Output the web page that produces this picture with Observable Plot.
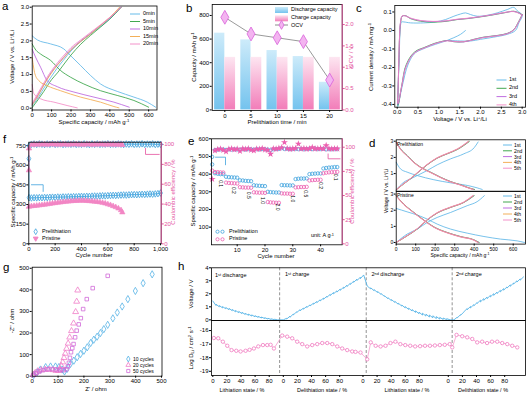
<!DOCTYPE html>
<html><head><meta charset="utf-8">
<script src="https://cdn.jsdelivr.net/npm/d3@7"></script>
<script src="https://cdn.jsdelivr.net/npm/@observablehq/plot@0.6"></script>
<style>
body{margin:0;background:#fff;}
#root{position:relative;width:530px;height:395px;overflow:hidden;font-family:"Liberation Sans",Arial,Helvetica,sans-serif;}
.t{position:absolute;white-space:nowrap;line-height:1;color:#000;}
.t sup{font-size:70%;vertical-align:0.45em;line-height:0;}
.t sub{font-size:70%;vertical-align:-0.2em;line-height:0;}
</style></head><body><div id="root"></div>
<script>
// ---------------- DATA ----------------
// (a) charge/discharge curves, [capacity mAh/g, voltage V]
const aLegend = ["0min","5min","10min","15min","20min"];
const a0Dis = [[0,2.15],[26,2.03],[95,1.91],[163,1.76],[198,1.56],[249,1.27],[301,0.97],[352,0.72],[438,0.5],[524,0.33],[593,0.18],[636,0.03]];
const a5Dis = [[0,1.91],[20,1.72],[43,1.61],[95,1.42],[146,1.12],[198,0.92],[266,0.72],[352,0.52],[438,0.38],[524,0.23],[600,0.03]];
const a10Dis = [[0,1.75],[17,1.52],[43,1.22],[77,0.82],[129,0.64],[215,0.48],[318,0.33],[421,0.18],[500,0.03]];
const a15Dis = [[0,1.5],[14,1.02],[34,0.82],[77,0.67],[146,0.52],[249,0.33],[352,0.18],[421,0.05],[447,0.01]];
const a20Dis = [[0,0.7],[9,0.43],[43,0.28],[112,0.18],[180,0.08],[232,0.01]];
const a0Cha = [[0,0.08],[20,0.22],[50,0.5],[80,0.78],[100,0.95],[130,1.2],[160,1.42],[200,1.7],[250,1.98],[300,2.2],[350,2.42],[400,2.65],[455,3.0]];
const a5Cha = [[0,0.02],[30,0.25],[60,0.5],[100,0.85],[130,1.05],[160,1.28],[200,1.58],[250,1.9],[300,2.16],[350,2.4],[400,2.65],[460,3.0]];
const a10Cha = [[0,0.12],[25,0.35],[50,0.6],[80,0.9],[100,1.08],[130,1.3],[160,1.5],[200,1.75],[250,2.0],[300,2.22],[350,2.45],[400,2.68],[455,3.0]];
const a15Cha = [[0,0.1],[25,0.32],[50,0.58],[80,0.88],[100,1.05],[130,1.28],[160,1.48],[200,1.73],[250,1.98],[300,2.2],[350,2.45],[400,2.7],[450,3.0]];
const a20Cha = [[0,0.15],[25,0.4],[50,0.65],[80,0.95],[100,1.12],[130,1.35],[160,1.55],[200,1.8],[250,2.03],[300,2.25],[350,2.47],[400,2.7],[460,3.0]];

// (b) prelithiation time
const bTime = [0,5,10,15,20];
const bDischarge = [650,593,503,452,234];
const bCharge = [445,445,445,445,445];
const bOCV = [2.17,1.78,1.69,1.60,0.70];

// (c) CV curves [V, mA/mg]
const cLegend = ["1st","2nd","3rd","4th"];
const cv1 = [[1.64,0],[1.52,-0.021],[1.36,-0.039],[1.2,-0.054],[1.04,-0.066],[0.8,-0.084],[0.6,-0.102],[0.44,-0.12],[0.32,-0.155],[0.22,-0.209],[0.16,-0.263],[0.096,-0.325],[0.048,-0.379],[0.016,-0.411],[0.024,-0.289],[0.048,-0.146],[0.064,-0.021],[0.08,0.029],[0.104,0.046],[0.16,0.046],[0.32,0.041],[0.64,0.041],[0.92,0.046],[1.16,0.059],[1.36,0.077],[1.52,0.089],[1.64,0.095],[1.76,0.086],[1.92,0.077],[2.16,0.082],[2.4,0.095],[2.64,0.113],[2.8,0.125],[2.88,0.107],[3.0,0.082],[2.92,0.041],[2.84,0],[2.64,-0.021],[2.32,-0.036],[2.0,-0.048],[1.76,-0.057],[1.52,-0.057],[1.28,-0.054]];
const cv2 = [[3.0,0.086],[2.92,0.05],[2.8,0.005],[2.64,-0.016],[2.4,-0.027],[2.08,-0.036],[1.84,-0.048],[1.6,-0.061],[1.36,-0.061],[1.2,-0.054],[1.04,-0.061],[0.88,-0.071],[0.64,-0.093],[0.48,-0.107],[0.36,-0.129],[0.26,-0.164],[0.18,-0.209],[0.13,-0.271],[0.08,-0.334],[0.04,-0.388],[0.016,-0.405],[0.024,-0.307],[0.04,-0.164],[0.056,-0.039],[0.08,0.041],[0.12,0.077],[0.2,0.08],[0.32,0.064],[0.56,0.05],[0.88,0.045],[1.2,0.05],[1.44,0.059],[1.68,0.064],[1.92,0.071],[2.24,0.082],[2.56,0.095],[2.8,0.104],[2.92,0.095],[3.0,0.086]];
const cv3 = [[3.0,0.084],[2.92,0.048],[2.8,0.004],[2.64,-0.017],[2.4,-0.028],[2.08,-0.037],[1.84,-0.049],[1.6,-0.062],[1.36,-0.06],[1.2,-0.055],[1.04,-0.062],[0.88,-0.073],[0.64,-0.095],[0.48,-0.11],[0.36,-0.133],[0.26,-0.17],[0.18,-0.215],[0.13,-0.275],[0.08,-0.335],[0.04,-0.385],[0.016,-0.4],[0.024,-0.3],[0.04,-0.16],[0.056,-0.035],[0.08,0.045],[0.12,0.078],[0.2,0.079],[0.32,0.066],[0.56,0.053],[0.88,0.048],[1.2,0.052],[1.44,0.06],[1.68,0.065],[1.92,0.072],[2.24,0.083],[2.56,0.096],[2.8,0.103],[2.92,0.094],[3.0,0.084]];
const cv4 = [[3.0,0.083],[2.92,0.047],[2.8,0.003],[2.64,-0.018],[2.4,-0.029],[2.08,-0.038],[1.84,-0.05],[1.6,-0.06],[1.36,-0.059],[1.2,-0.056],[1.04,-0.063],[0.88,-0.074],[0.64,-0.096],[0.48,-0.112],[0.36,-0.135],[0.26,-0.172],[0.18,-0.218],[0.13,-0.277],[0.08,-0.333],[0.04,-0.382],[0.016,-0.395],[0.024,-0.295],[0.04,-0.155],[0.056,-0.03],[0.08,0.047],[0.12,0.079],[0.2,0.078],[0.32,0.067],[0.56,0.054],[0.88,0.049],[1.2,0.053],[1.44,0.061],[1.68,0.066],[1.92,0.073],[2.24,0.084],[2.56,0.097],[2.8,0.102],[2.92,0.093],[3.0,0.083]];

// (f) long cycling [cycle, value]
const fLegend = ["Prelithiation","Pristine"];
const fPreCap = [[1,650],[2,352],[20,350],[40,352],[60,351],[80,353],[100,352],[120,354],[140,353],[160,355],[180,356],[200,355],[220,357],[240,356],[260,358],[280,357],[300,359],[320,358],[340,360],[360,359],[380,361],[400,362],[420,361],[440,363],[460,362],[480,364],[500,365],[520,364],[540,366],[560,367],[580,366],[600,368],[620,369],[640,370],[660,369],[680,371],[700,372],[720,373],[740,372],[760,374],[780,375],[800,376],[820,375],[840,377],[860,378],[880,377],[900,379],[920,380],[940,379],[960,381],[980,383],[1000,388]];
const fPriCap = [[1,283],[20,287],[40,289],[60,291],[80,294],[100,296],[120,299],[140,302],[160,305],[180,308],[200,311],[220,314],[240,316],[260,319],[280,321],[300,323],[320,325],[340,327],[360,328],[380,329],[400,330],[420,329],[440,328],[460,326],[480,324],[500,322],[520,320],[540,317],[560,313],[580,308],[600,302],[620,296],[640,288],[660,280],[680,270],[700,257],[710,240]];
const fPreCE = [[2,98.6],[20,100.2],[40,100.5],[60,100.1],[80,100.6],[100,100.3],[120,100.0],[140,100.5],[160,100.2],[180,100.7],[200,100.1],[220,100.4],[240,100.6],[260,100.0],[280,100.3],[300,100.5],[320,100.2],[340,100.6],[360,100.1],[380,100.4],[400,100.2],[420,100.6],[440,100.3],[460,100.0],[480,100.5],[500,100.2],[520,100.6],[540,100.1],[560,100.4],[580,100.3],[600,100.7],[620,100.1],[640,100.4],[660,100.2],[680,100.6],[700,100.3],[720,100.0],[740,100.5],[760,100.2],[780,100.6],[800,100.1],[820,100.4],[840,100.3],[860,100.7],[880,100.1],[900,100.4],[920,100.2],[940,100.6],[960,100.0],[980,100.3],[1000,100.2]];
const fPriCE = [[1,74],[2,96],[20,99.7],[40,100.1],[60,99.8],[80,100.2],[100,99.9],[120,100.3],[140,99.8],[160,100.1],[180,100.4],[200,99.9],[220,100.2],[240,99.8],[260,100.3],[280,100.0],[300,99.7],[320,100.2],[340,100.0],[360,100.4],[380,99.9],[400,100.1],[420,99.8],[440,100.3],[460,100.0],[480,99.7],[500,100.2],[520,99.9],[540,100.3],[560,100.0],[580,99.8],[600,100.2],[620,99.9],[640,100.1],[660,99.7],[680,100.0],[700,99.8],[710,99.6]];
const fArrowPre = [[20,451],[109,451],[109,400]];
const fArrowPri = [[886,96],[886,90],[990,90]];

// (e) rate performance, index = cycle-1
const ePreCap = [455,405,402,400,400,385,383,382,381,380,365,364,362,361,360,337,335,334,333,332,300,298,297,296,296,338,337,337,336,336,372,374,375,375,376,400,402,403,404,404,432,435,437,438,440,440];
const ePriCap = [420,412,411,410,409,352,350,349,348,347,326,325,324,324,323,297,296,295,295,294,242,240,239,238,238,291,290,290,289,289,325,326,327,327,328,364,366,367,368,368,405,408,410,411,412,413];
const ePreCE = [90,97,97.5,97.8,97.6,97.2,97.8,97.5,97.9,97.7,97.3,98,97.6,98.1,97.8,97.4,98,97.7,98.2,97.9,97.5,96.8,97.9,98.1,98.3,99,98.2,98.4,98,98.1,98.2,98,98.3,97.9,98.2,98.4,98.1,98.6,98,98.2,98.4,97.8,98,97.9,98.1,98];
const ePriCE = [67,96.5,97.8,98.2,97,95.5,98,98.5,97.5,98.3,96,98.4,97.9,98.6,97.2,96.5,98.2,98,98.7,97.4,97,93,98.5,98.2,98.9,99.5,105,98.6,98.1,98.4,98.8,103.5,98.3,98.7,98.2,98.5,99.8,98.4,98.6,98.9,98.3,101.8,98.5,98.2,98.6,98.4];
const eRateText = ["0.1","0.2","0.5","1.0","2.0","1.0","0.5","0.2","0.1"];
const eRateCycle = [4.0,8.8,14.0,19.2,24.4,29.8,34.6,40.0,45.4];
const eRateCap = [346,308,280,251,214,261,289,336,383];
const eArrowPre = [[2.2,496],[5.8,496],[5.8,453]];
const eArrowPri = [[42.7,93],[42.7,88],[47,88]];

// (d) galvanostatic profiles [capacity, V]
const dLegend = ["1st","2nd","3rd","4th","5th"];
const dPre1Dis = [[0,1.7],[22,1.29],[56,1.09],[108,0.88],[193,0.62],[279,0.43],[364,0.27],[415,0.12],[441,0.02]];
const dPre1Cha = [[0,0],[39,0.47],[74,0.68],[108,0.88],[159,1.19],[210,1.54],[279,1.91],[347,2.22],[400,2.6],[420,2.95]];
const dPre2Dis = [[0,2.95],[22,2.53],[56,2.12],[91,1.7],[125,1.4],[176,1.09],[227,0.78],[279,0.51],[330,0.31],[373,0.12],[402,0.02]];
const dPre3Dis = [[0,2.94],[22,2.52],[56,2.1],[91,1.69],[125,1.39],[176,1.08],[227,0.77],[279,0.5],[330,0.3],[373,0.11],[398,0.02]];
const dPre4Dis = [[0,2.93],[22,2.5],[56,2.09],[91,1.68],[125,1.38],[176,1.07],[227,0.76],[279,0.49],[330,0.3],[373,0.11],[395,0.02]];
const dPre5Dis = [[0,2.92],[22,2.49],[56,2.08],[91,1.67],[125,1.37],[176,1.06],[227,0.75],[279,0.48],[330,0.29],[373,0.1],[392,0.02]];
const dPre2Cha = [[0,0],[39,0.37],[74,0.68],[108,1.03],[159,1.54],[210,1.95],[262,2.22],[313,2.48],[375,2.98]];
const dPre3Cha = [[0,0],[39,0.38],[74,0.69],[108,1.04],[159,1.55],[210,1.96],[262,2.23],[313,2.5],[372,2.98]];
const dPre4Cha = [[0,0],[39,0.38],[74,0.7],[108,1.05],[159,1.56],[210,1.97],[262,2.24],[313,2.51],[370,2.98]];
const dPre5Cha = [[0,0],[39,0.39],[74,0.7],[108,1.06],[159,1.57],[210,1.98],[262,2.25],[313,2.52],[368,2.98]];
const dPri1Dis = [[0,2.11],[56,1.9],[108,1.7],[159,1.45],[210,1.14],[279,0.83],[364,0.58],[450,0.37],[535,0.21],[620,0.1],[658,0]];
const dPri1Cha = [[0,0],[56,0.52],[108,0.83],[159,1.24],[210,1.55],[279,1.86],[364,2.28],[415,2.53],[452,2.9]];
const dPri2Dis = [[0,2.9],[39,2.38],[91,1.86],[142,1.39],[193,0.97],[262,0.62],[330,0.37],[398,0.17],[426,0]];
const dPri3Dis = [[0,2.89],[39,2.37],[91,1.85],[142,1.38],[193,0.96],[262,0.61],[330,0.36],[398,0.16],[423,0]];
const dPri4Dis = [[0,2.88],[39,2.36],[91,1.84],[142,1.37],[193,0.95],[262,0.6],[330,0.35],[398,0.15],[420,0]];
const dPri5Dis = [[0,2.87],[39,2.35],[91,1.83],[142,1.36],[193,0.94],[262,0.59],[330,0.34],[398,0.14],[417,0]];
const dPri2Cha = [[0,0],[56,0.41],[108,0.83],[159,1.39],[210,1.82],[279,2.17],[347,2.48],[400,2.9]];
const dPri3Cha = [[0,0],[56,0.42],[108,0.84],[159,1.4],[210,1.83],[279,2.18],[347,2.49],[397,2.9]];
const dPri4Cha = [[0,0],[56,0.42],[108,0.85],[159,1.41],[210,1.84],[279,2.19],[347,2.5],[394,2.9]];
const dPri5Cha = [[0,0],[56,0.43],[108,0.86],[159,1.42],[210,1.85],[279,2.2],[347,2.51],[391,2.9]];

// (g) Nyquist [Z', -Z'']
const gLegend = ["10 cycles","20 cycles","50 cycles"];
const g10 = [[6,6],[19,18],[32,31],[52,42],[71,45],[90,45],[103,42],[116,31],[125,22],[135,34],[148,57],[161,72],[174,88],[187,103],[200,118],[213,134],[226,154],[238,169],[251,183],[264,200],[277,218],[292,238],[312,268],[329,295],[348,323],[370,357],[399,395],[429,431],[464,472]];
const g20 = [[4,8],[12,16],[22,24],[35,29],[50,31],[65,31],[80,29],[92,26],[102,25],[108,32],[113,48],[118,65],[123,85],[128,105],[133,128],[139,152],[145,180],[152,210],[160,245],[168,298],[172,346],[176,398]];
const g50 = [[5,5],[15,14],[28,22],[42,28],[58,32],[75,33],[92,31],[108,29],[122,28],[132,32],[138,45],[142,62],[146,85],[150,111],[155,130],[160,149],[166,180],[172,211],[180,240],[188,269],[197,311],[211,357],[234,408],[292,465]];

// (h) GITT: segment start (state %), step, relaxed / pulse voltages
const hSegStart = [0,100,219,342];
const hSegStep = [4.6,4.75,4.9,4.7];
const h1Relax = [1.45,1.2,1.1,1.02,0.95,0.88,0.8,0.72,0.65,0.58,0.5,0.44,0.38,0.32,0.27,0.22,0.17,0.12,0.08,0.05];
const h1Pulse = [1.1,1.0,0.92,0.85,0.78,0.7,0.62,0.55,0.48,0.41,0.35,0.29,0.24,0.19,0.14,0.1,0.06,0.03,0.01,0.0];
const h2Relax = [0.0,0.06,0.2,0.38,0.56,0.7,0.82,0.95,1.07,1.2,1.32,1.45,1.58,1.73,1.87,2.0,2.13,2.27,2.41,2.56,2.72,2.88,3.02,3.16];
const h2Pulse = [0.12,0.28,0.45,0.62,0.78,0.9,1.03,1.15,1.28,1.41,1.54,1.67,1.81,1.96,2.1,2.23,2.37,2.51,2.66,2.81,2.97,3.13,3.28,3.45];
const h3Relax = [2.6,2.46,2.32,2.18,2.02,1.85,1.7,1.56,1.42,1.28,1.14,1.02,0.9,0.79,0.69,0.59,0.51,0.44,0.37,0.31,0.25,0.19,0.14,0.09];
const h3Pulse = [2.38,2.24,2.1,1.96,1.8,1.63,1.48,1.34,1.2,1.06,0.92,0.8,0.68,0.57,0.47,0.37,0.29,0.22,0.16,0.1,0.06,0.03,0.01,0.0];
const h4Relax = [0.0,0.15,0.35,0.62,0.78,0.92,1.08,1.26,1.38,1.5,1.63,1.76,1.88,2.02,2.15,2.28,2.44,2.58,2.75,2.9,3.05];
const h4Pulse = [0.2,0.4,0.6,0.87,1.03,1.17,1.33,1.51,1.63,1.75,1.88,2.01,2.13,2.27,2.4,2.53,2.69,2.83,3.0,3.15,3.3];
const hLogD = [[1.5,-16.55],[7.7,-16.57],[14.3,-16.82],[20.5,-17.12],[26.6,-17.44],[33.3,-17.49],[39.4,-17.54],[46.5,-17.49],[52.2,-17.42],[58.3,-17.32],[64.5,-17.17],[71.1,-17.07],[77.2,-17.07],[82,-17.05],[86.7,-17.32],
 [98.4,-16.37],[105.5,-16.45],[112.6,-16.57],[119.7,-16.82],[126.8,-17.0],[133.9,-17.17],[141,-17.07],[148.1,-17.0],[155.2,-16.92],[162.3,-16.92],[169.4,-17.0],[176.5,-17.17],[183.5,-17.32],[190.6,-17.44],[197.7,-17.54],[202.4,-17.57],[209.5,-17.62],
 [219,-18.12],[224,-16.87],[231,-17.12],[238,-17.17],[245,-17.12],[252,-16.92],[259,-16.82],[266,-17.0],[273,-17.07],[280,-17.12],[287,-17.17],[294,-17.15],[301,-17.12],[308,-17.12],[315,-17.1],[322,-17.07],[329,-17.05],[336,-17.0],[339.6,-17.24],
 [345.7,-16.32],[353.7,-16.42],[360.8,-16.5],[368,-16.62],[375,-16.87],[382,-16.82],[389,-16.92],[396,-16.82],[403.4,-16.82],[410.5,-16.92],[417.6,-17.0],[424.7,-17.12],[431.8,-17.24]];
const hTickZero = [0,100,213,334];
const hTickStep = [0,20,40,60,80];
const hDash = [94.8,217.6,339.5];
const hTitles = ["1<sup>st</sup> discharge","1<sup>st</sup> charge","2<sup>nd</sup> discharge","2<sup>nd</sup> charge"];

// ---------------- RENDERING ----------------
const C = {blue:"#55B3E6", green:"#2C9E3C", purple:"#B85CDC", orange:"#F2A646", pink:"#F286C4", axpink:"#E4519E", grey:"#808080", mag:"#D06AD8", dblue:"#3FA2DD"};
const FONT = '"Liberation Sans", Arial, Helvetica, sans-serif';
const root = document.getElementById("root");
const XY = {x: d => d[0], y: d => d[1]};

function plotAt(x, y, w, h, m, opts) {
  const svg = Plot.plot({width: w, height: h, marginLeft: m[0], marginRight: m[1], marginTop: m[2], marginBottom: m[3],
    style: {fontFamily: FONT, fontSize: "6px", background: "transparent", overflow: "visible", color: "#000"}, ...opts});
  svg.style.position = "absolute"; svg.style.left = x + "px"; svg.style.top = y + "px";
  root.appendChild(svg);
  return svg;
}
function text(html, x, y, o = {}) {
  const d = document.createElement("div");
  d.className = "t"; d.innerHTML = html;
  d.style.left = x + "px"; d.style.top = y + "px";
  d.style.fontSize = (o.size || 6) + "px";
  if (o.color) d.style.color = o.color;
  const ax = o.anchor === "middle" ? "-50%" : o.anchor === "end" ? "-100%" : "0";
  d.style.transform = `translate(${ax},-50%)` + (o.rot ? ` rotate(${o.rot}deg)` : "");
  root.appendChild(d);
}
const AX = {tickSize: 2, tickPadding: 1, label: null};
const f1 = d => d.toFixed(1);

// gradient defs (document-level)
const defs = d3.select(root).append("svg").attr("width", 0).attr("height", 0).style("position", "absolute").append("defs");
function grad(id, top, bottom) {
  const g = defs.append("linearGradient").attr("id", id).attr("x1", 0).attr("x2", 0).attr("y1", 0).attr("y2", 1);
  g.append("stop").attr("offset", "0%").attr("stop-color", top);
  g.append("stop").attr("offset", "100%").attr("stop-color", bottom);
}
grad("gBlue", "#CDEBFA", "#74C3EE");
grad("gPink", "#FDE6F1", "#F27DB9");

// ---- (a)
plotAt(0, 0, 165, 125, [31.7, 8.5, 5.5, 15.5], {
  x: {domain: [0, 643]}, y: {domain: [-0.053, 3.036]},
  marks: [
    Plot.axisX([0,100,200,300,400,500,600], AX),
    Plot.axisY([0,0.5,1,1.5,2,2.5,3], {...AX, tickFormat: f1}),
    ...[[a0Dis,a0Cha,C.blue],[a5Dis,a5Cha,C.green],[a10Dis,a10Cha,C.purple],[a15Dis,a15Cha,C.orange],[a20Dis,a20Cha,C.pink]]
      .flatMap(([dis, cha, col]) => [
        Plot.line(dis, {...XY, stroke: col, strokeWidth: 0.8, curve: "monotone-x"}),
        Plot.line(cha, {...XY, stroke: col, strokeWidth: 0.8, curve: "monotone-x"})]),
    Plot.frame({strokeWidth: 0.8})
  ]
});

// ---- (b)
const kB = 893 / 2.47;
const bData = bTime.map((t, i) => ({t, dis: bDischarge[i], cha: bCharge[i], ocv: bOCV[i]}));
plotAt(180, 0, 175, 125, [31.7, 13.3, 4, 15], {
  x: {domain: [-2.41, 22.4]}, y: {domain: [-5, 893]},
  marks: [
    Plot.rect(bData, {x1: d => d.t - 1.95, x2: d => d.t, y1: d => 0, y2: "dis", fill: "url(#gBlue)"}),
    Plot.rect(bData, {x1: d => d.t, x2: d => d.t + 2.05, y1: d => 0, y2: "cha", fill: "url(#gPink)"}),
    Plot.line(bData, {x: "t", y: d => d.ocv * kB, stroke: C.grey, strokeWidth: 0.8}),
    Plot.dot(bData, {x: "t", y: d => d.ocv * kB, symbol: "diamond", r: 4.2, fill: "#F3B4F0", stroke: "#D962DA", strokeWidth: 0.8}),
    Plot.axisX(bTime, AX),
    Plot.axisY([0,200,400,600,800], AX),
    Plot.axisY([0,0.5,1,1.5,2].map(v => v * kB), {...AX, anchor: "right", tickFormat: d => (d / kB).toFixed(1), color: C.axpink}),
    Plot.frame({strokeWidth: 0.8}),
    Plot.ruleX([22.4], {stroke: C.axpink, strokeWidth: 0.9})
  ]
});

// ---- (c)
plotAt(355, 0, 175, 125, [39.3, 5, 5, 18.3], {
  x: {domain: [-0.058, 3.08]}, y: {domain: [-0.415, 0.135]},
  marks: [
    Plot.axisX([0,0.5,1,1.5,2,2.5,3], {...AX, tickFormat: f1}),
    Plot.axisY([0.1,0,-0.1,-0.2,-0.3,-0.4], {...AX, tickFormat: f1}),
    Plot.line(cv1, {...XY, stroke: C.blue, strokeWidth: 0.8, curve: "catmull-rom"}),
    Plot.line(cv2, {...XY, stroke: C.green, strokeWidth: 0.8, curve: "catmull-rom"}),
    Plot.line(cv3, {...XY, stroke: C.purple, strokeWidth: 0.8, curve: "catmull-rom"}),
    Plot.line(cv4, {...XY, stroke: C.pink, strokeWidth: 0.8, curve: "catmull-rom"}),
    Plot.frame({strokeWidth: 0.8})
  ]
});

// ---- (f)
const kF = 776 / 102.3;
plotAt(0, 128, 175, 130, [28.3, 14.3, 13.7, 14.7], {
  x: {domain: [0, 1005]}, y: {domain: [0, 776]},
  marks: [
    Plot.axisX([0,200,400,600,800,1000], AX),
    Plot.axisY([0,150,300,450,600,750], AX),
    Plot.axisY([0,20,40,60,80,100].map(v => v * kF), {...AX, anchor: "right", tickFormat: d => Math.round(d / kF), color: C.axpink}),
    Plot.line(fPreCap, {...XY, stroke: C.dblue, strokeWidth: 0.8}),
    Plot.dot(fPreCap, {...XY, symbol: "diamond", r: 2, stroke: C.dblue, strokeWidth: 0.8}),
    Plot.line(fPriCap, {...XY, stroke: C.pink, strokeWidth: 0.8}),
    Plot.dot(fPriCap, {...XY, symbol: "triangle", r: 2, fill: C.pink, stroke: C.pink, strokeWidth: 0.6}),
    Plot.line(fPreCE, {x: d => d[0], y: d => d[1] * kF, stroke: C.dblue, strokeWidth: 0.8}),
    Plot.dot(fPreCE, {x: d => d[0], y: d => d[1] * kF, symbol: "diamond", r: 2, stroke: C.dblue, strokeWidth: 0.8}),
    Plot.line(fPriCE, {x: d => d[0], y: d => d[1] * kF, stroke: C.pink, strokeWidth: 0.8}),
    Plot.dot(fPriCE, {x: d => d[0], y: d => d[1] * kF, symbol: "triangle", r: 2, fill: C.pink, stroke: C.pink, strokeWidth: 0.6}),
    Plot.line(fArrowPre, {...XY, stroke: C.dblue, strokeWidth: 0.8}),
    Plot.line(fArrowPri, {x: d => d[0], y: d => d[1] * kF, stroke: C.axpink, strokeWidth: 0.8}),
    Plot.frame({strokeWidth: 0.8}),
    Plot.ruleX([1005], {stroke: C.axpink, strokeWidth: 0.9})
  ]
});

// ---- (e)
const kE = 600 / 109.7;
const ceE = v => (v + 1) * kE;
const eRates = eRateText.map((s, i) => ({s, c: eRateCycle[i], v: eRateCap[i]}));
plotAt(180, 128, 175, 130, [31, 13.3, 10.3, 13.7], {
  x: {domain: [0.76, 47.77]}, y: {domain: [0, 600]},
  marks: [
    Plot.axisX([10,20,30,40], AX),
    Plot.axisY([100,200,300,400,500,600], AX),
    Plot.axisY([0,25,50,75,100].map(ceE), {...AX, anchor: "right", tickFormat: d => Math.round(d / kE - 1), color: C.axpink}),
    Plot.dot(ePreCap, {x: (d, i) => i + 1, y: d => d, r: 1.7, stroke: C.dblue, strokeWidth: 0.8}),
    Plot.dot(ePriCap, {x: (d, i) => i + 1, y: d => d, r: 1.7, stroke: "#EC5FB0", strokeWidth: 0.8}),
    Plot.dot(ePreCE, {x: (d, i) => i + 1, y: d => ceE(d), r: 1.7, stroke: C.dblue, strokeWidth: 0.8}),
    Plot.dot(ePriCE, {x: (d, i) => i + 1, y: d => ceE(d), symbol: "star", r: 2.2, fill: "#EC5FB0"}),
    Plot.line(eArrowPre, {...XY, stroke: C.dblue, strokeWidth: 0.8}),
    Plot.line(eArrowPri, {x: d => d[0], y: d => ceE(d[1]), stroke: C.axpink, strokeWidth: 0.8}),
    Plot.text(eRates, {x: "c", y: "v", text: "s", rotate: 90, fontSize: 5, fill: "#000"}),
    Plot.frame({strokeWidth: 0.8}),
    Plot.ruleX([47.77], {stroke: C.axpink, strokeWidth: 0.9})
  ]
});

// ---- (d)
const dCols = [C.blue, C.green, C.purple, C.orange, C.pink];
const dPreSets = [[dPre1Dis,dPre1Cha],[dPre2Dis,dPre2Cha],[dPre3Dis,dPre3Cha],[dPre4Dis,dPre4Cha],[dPre5Dis,dPre5Cha]];
const dPriSets = [[dPri1Dis,dPri1Cha],[dPri2Dis,dPri2Cha],[dPri3Dis,dPri3Cha],[dPri4Dis,dPri4Cha],[dPri5Dis,dPri5Cha]];
const dLines = sets => sets.flatMap(([dis, cha], i) => [
  Plot.line(dis, {...XY, stroke: dCols[i], strokeWidth: 0.8, curve: "monotone-x"}),
  Plot.line(cha, {...XY, stroke: dCols[i], strokeWidth: 0.8, curve: "monotone-x"})]);
plotAt(355, 128, 175, 62.7, [40.7, 5, 11.3, 0], {
  x: {domain: [0, 663], axis: null}, y: {domain: [-0.086, 3.086]},
  marks: [Plot.axisY([1,2,3], {...AX, fontSize: 5}), ...dLines(dPreSets), Plot.frame({strokeWidth: 0.8})]
});
plotAt(355, 190.7, 175, 67.3, [40.7, 5, 0, 14.7], {
  x: {domain: [0, 663]}, y: {domain: [-0.1, 3.16]},
  marks: [Plot.axisX([0,100,200,300,400,500,600], {...AX, fontSize: 5}), Plot.axisY([0,1,2,3], {...AX, fontSize: 5}), ...dLines(dPriSets), Plot.frame({strokeWidth: 0.8})]
});

// ---- (g)
plotAt(0, 258, 175, 137, [31.7, 13.5, 8.7, 19.3], {
  x: {domain: [0, 502]}, y: {domain: [0, 505]},
  marks: [
    Plot.axisX([0,100,200,300,400,500], AX),
    Plot.axisY([0,100,200,300,400,500], AX),
    Plot.dot(g10, {...XY, symbol: "diamond", r: 2.2, stroke: C.blue, strokeWidth: 0.8}),
    Plot.dot(g20, {...XY, symbol: "triangle", r: 2.2, stroke: "#F07CC8", strokeWidth: 0.8}),
    Plot.dot(g50, {...XY, symbol: "square", r: 2.0, stroke: C.mag, strokeWidth: 0.8}),
    Plot.frame({strokeWidth: 0.8})
  ]
});

// ---- (h)
const hSegs = [[h1Relax,h1Pulse],[h2Relax,h2Pulse],[h3Relax,h3Pulse],[h4Relax,h4Pulse]];
const hV = hSegs.flatMap(([rel, pul], s) => rel.flatMap((r, i) => [
  [hSegStart[s] + i * hSegStep[s], r], [hSegStart[s] + (i + 1) * hSegStep[s], pul[i]]]));
const hTicks = hTickZero.flatMap(z => hTickStep.map(s => z + s));
const hFmt = d => { const z = hTickZero.filter(v => v <= d + 0.01).pop(); return String(Math.round(d - z)); };
plotAt(180, 258, 350, 62, [31, 5, 9.3, 0], {
  x: {domain: [-1.84, 443.5], axis: null}, y: {domain: [-0.05, 4]},
  marks: [
    Plot.axisY([0,1,2,3,4], AX),
    Plot.ruleX(hDash, {stroke: "#777", strokeDasharray: "3,2", strokeWidth: 0.8}),
    Plot.line(hV, {...XY, stroke: C.blue, strokeWidth: 0.9}),
    Plot.frame({strokeWidth: 0.8})
  ]
});
plotAt(180, 320, 350, 75, [31, 5, 0, 20], {
  x: {domain: [-1.84, 443.5]}, y: {domain: [-19.31, -15.26]},
  marks: [
    Plot.axisX(hTicks, {...AX, tickFormat: hFmt}),
    Plot.axisY([-19,-18,-17,-16], {...AX, tickFormat: d => String(d)}),
    Plot.ruleX(hDash, {stroke: "#777", strokeDasharray: "3,2", strokeWidth: 0.8}),
    Plot.line(hLogD, {...XY, stroke: "#F59ACD", strokeWidth: 0.8}),
    Plot.dot(hLogD, {...XY, r: 1.7, stroke: "#F07CC0", strokeWidth: 0.8, fill: "#fff"}),
    Plot.frame({strokeWidth: 0.8})
  ]
});

// ---------------- LEGENDS / LABELS ----------------
const ov = d3.select(root).append("svg").attr("width", 530).attr("height", 395)
  .style("position", "absolute").style("left", 0).style("top", 0).style("pointer-events", "none");
function legLine(x1, x2, y, col) { ov.append("line").attr("x1", x1).attr("x2", x2).attr("y1", y).attr("y2", y).attr("stroke", col).attr("stroke-width", 0.9); }
function legSym(type, x, y, size, attrs) {
  const p = ov.append("path").attr("d", d3.symbol(type, size)()).attr("transform", `translate(${x},${y})`);
  for (const k in attrs) p.attr(k, attrs[k]);
}
// panel letters
[["a",2,7],["b",186,9],["c",356,9],["f",3,140],["e",188,142],["d",369,144],["g",3,268],["h",178,267]]
  .forEach(([s, x, y]) => text(s, x, y, {size: 11.5}));

// (a)
const aCols = [C.blue, C.green, C.purple, C.orange, C.pink];
aLegend.forEach((s, i) => { const y = 14 + i * 7.5; legLine(130, 140, y, aCols[i]); text(s, 143, y, {size: 5.5}); });
text("Voltage / V vs. Li<sup>+</sup>/Li", 12, 57, {anchor: "middle", rot: -90});
text("Specific capacity / mAh g<sup>-1</sup>", 94, 121.5, {anchor: "middle"});
// (b)
ov.append("rect").attr("x", 275).attr("y", 7).attr("width", 13).attr("height", 6).attr("fill", "url(#gBlue)");
ov.append("rect").attr("x", 275).attr("y", 15.3).attr("width", 13).attr("height", 6).attr("fill", "url(#gPink)");
legLine(275, 288, 25, C.grey);
legSym(d3.symbolDiamond, 281.5, 25, 22, {fill: "#F3B4F0", stroke: "#D962DA", "stroke-width": 0.8});
text("Discharge capacity", 291, 10, {size: 5.5});
text("Charge capacity", 291, 18.3, {size: 5.5});
text("OCV", 291, 25.5, {size: 5.5});
text("Capacity / mAh g<sup>-1</sup>", 194, 57, {anchor: "middle", rot: -90});
text("OCV / V", 351, 57, {anchor: "middle", rot: -90, color: C.axpink});
text("Prelithiation time / min", 277, 121.5, {anchor: "middle"});
// (c)
const cCols = [C.blue, C.green, C.purple, C.pink];
cLegend.forEach((s, i) => { const y = 80 + i * 8.3; legLine(496.5, 506.5, y, cCols[i]); text(s, 509, y, {size: 5.5}); });
text("Current density / mA mg<sup>-1</sup>", 371, 57, {anchor: "middle", rot: -90});
text("Voltage / V vs. Li<sup>+</sup>/Li", 460, 118.5, {anchor: "middle"});
// (f)
legSym(d3.symbolDiamond, 35.7, 231.7, 10, {fill: "none", stroke: C.dblue, "stroke-width": 0.8});
legSym(d3.symbolTriangle, 35.7, 238.5, 10, {fill: C.pink, stroke: C.pink, transform: "translate(35.7,238.5) rotate(180)"});
text("Prelithiation", 42, 231.7, {size: 5.5});
text("Pristine", 42, 238.5, {size: 5.5});
text("Specific capacity / mAh g<sup>-1</sup>", 13, 192, {anchor: "middle", rot: -90});
text("Coulombic efficiency / %", 173, 192, {anchor: "middle", rot: -90, color: C.axpink});
text("Cycle number", 94, 254.5, {anchor: "middle"});
// (e)
[[217.5, 231.7, C.dblue], [222.5, 231.7, C.dblue], [217.5, 239.3, "#EC5FB0"], [222.5, 239.3, "#EC5FB0"]]
  .forEach(([x, y, c]) => legSym(d3.symbolCircle, x, y, 8, {fill: "none", stroke: c, "stroke-width": 0.8}));
text("Prelithiation", 229, 231.7, {size: 5.5});
text("Pristine", 229, 239.3, {size: 5.5});
text("unit: A g<sup>-1</sup>", 311, 236, {size: 5.5});
text("Specific capacity / mAh g<sup>-1</sup>", 193, 191, {anchor: "middle", rot: -90});
text("Coulombic efficiency / %", 352, 191, {anchor: "middle", rot: -90, color: C.axpink});
text("Cycle number", 276, 255.5, {anchor: "middle"});
// (d)
dLegend.forEach((s, i) => {
  const y1 = 145 + i * 5.8, y2 = 196 + i * 6;
  legLine(503, 512, y1, dCols[i]); text(s, 514, y1, {size: 5});
  legLine(503, 512, y2, dCols[i]); text(s, 514, y2, {size: 5});
});
text("Prelithiation", 397, 143.5, {size: 5});
text("Pristine", 397, 195, {size: 5});
text("Voltage / V vs. Li<sup>+</sup>/Li", 386, 191, {anchor: "middle", rot: -90, size: 5});
text("Specific capacity / mAh g<sup>-1</sup>", 460, 254.5, {anchor: "middle", size: 5});
// (g)
legSym(d3.symbolDiamond, 128.3, 359, 10, {fill: "none", stroke: C.blue, "stroke-width": 0.8});
legSym(d3.symbolTriangle, 128.3, 365, 10, {fill: "none", stroke: "#F07CC8", "stroke-width": 0.8});
legSym(d3.symbolSquare, 128.3, 371, 10, {fill: "none", stroke: C.mag, "stroke-width": 0.8});
gLegend.forEach((s, i) => text(s, 133, 359 + i * 6, {size: 5}));
text("-Z'' / ohm", 11.5, 321, {anchor: "middle", rot: -90});
text("Z' / ohm", 96, 388.5, {anchor: "middle"});
// (h)
[[215,275.5],[285,275],[371.5,275],[456,275]].forEach(([x, y], i) => text(hTitles[i], x, y, {size: 5.5}));
text("Voltage / V", 191, 294, {anchor: "middle", rot: -90});
text("Log D<sub>Li</sub> / cm<sup>2</sup> s<sup>-1</sup>", 191, 348, {anchor: "middle", rot: -90});
[["Lithiation state / %",242],["Delithiation state / %",322],["Lithiation state / %",407],["Delithiation state / %",483]]
  .forEach(([s, x]) => text(s, x, 390.5, {anchor: "middle", size: 5.5}));
</script></body></html>
